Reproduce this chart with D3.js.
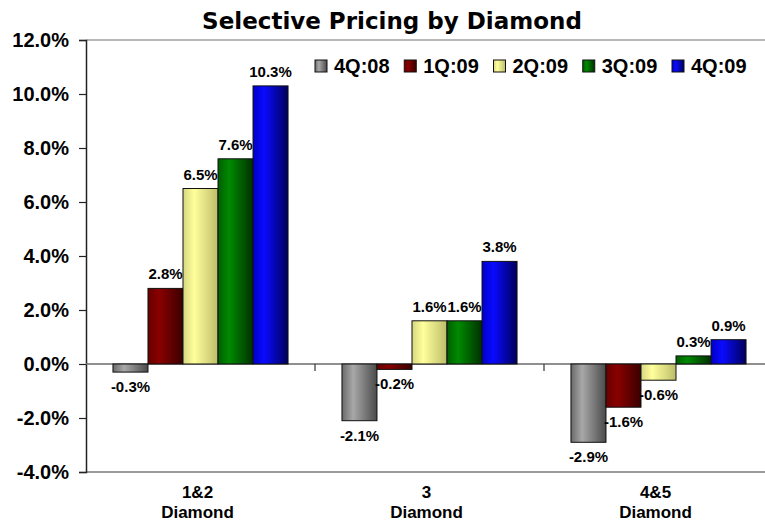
<!DOCTYPE html>
<html>
<head>
<meta charset="utf-8">
<script src="https://cdn.jsdelivr.net/npm/d3@7"></script>
<style>
  html, body { margin: 0; padding: 0; background: #fff; }
  svg { display: block; }
  text { font-family: "Liberation Sans", Arial, sans-serif; font-weight: bold; fill: #000; }
</style>
</head>
<body>
<svg id="chart" width="765" height="527"></svg>
<script>
// Chart data
const categories = ["1&2 Diamond", "3 Diamond", "4&5 Diamond"];
const seriesNames = ["4Q:08", "1Q:09", "2Q:09", "3Q:09", "4Q:09"];
const values_4Q08 = [-0.3, -2.1, -2.9];
const values_1Q09 = [2.8, -0.2, -1.6];
const values_2Q09 = [6.5, 1.6, -0.6];
const values_3Q09 = [7.6, 1.6, 0.3];
const values_4Q09 = [10.3, 3.8, 0.9];
const yTicks = [-4, -2, 0, 2, 4, 6, 8, 10, 12];

const seriesValues = [values_4Q08, values_1Q09, values_2Q09, values_3Q09, values_4Q09];

// Shading stops per series: edge, highlight, shadow
const palette = [
  ["#6a6a6a", "#a8a8a8", "#4a4a4a"],
  ["#660000", "#8a0000", "#3a0000"],
  ["#d6d680", "#ffff9c", "#bdbd6a"],
  ["#005e00", "#008a00", "#003000"],
  ["#0000c8", "#0a0aff", "#00005a"]
];

const pct = v => v.toFixed(1) + "%";

const svg = d3.select("#chart");
const margin = { left: 86, top: 40, right: -8, bottom: 55 };
const W = 765, H = 527;
const x0Range = [margin.left, W - margin.right];
const yRange = [H - margin.bottom, margin.top];

const x0 = d3.scaleBand().domain(categories).range(x0Range).padding(0);
const x1 = d3.scaleBand().domain(seriesNames).range([0, x0.bandwidth()])
  .paddingInner(0).paddingOuter(0.77);
const y = d3.scaleLinear().domain([-4, 12]).range(yRange);

// Gradients
const defs = svg.append("defs");
palette.forEach((p, i) => {
  const g = defs.append("linearGradient").attr("id", "grad" + i)
    .attr("x1", "0%").attr("x2", "100%").attr("y1", "0%").attr("y2", "0%");
  g.append("stop").attr("offset", "0%").attr("stop-color", p[0]);
  g.append("stop").attr("offset", "32%").attr("stop-color", p[1]);
  g.append("stop").attr("offset", "100%").attr("stop-color", p[2]);
});

// Plot frame: top and bottom border
svg.append("line").attr("x1", x0Range[0]).attr("x2", W).attr("y1", y(12)).attr("y2", y(12))
  .attr("stroke", "#a0a0a0").attr("stroke-width", 1.5);
svg.append("line").attr("x1", x0Range[0]).attr("x2", W).attr("y1", y(-4)).attr("y2", y(-4))
  .attr("stroke", "#7a7a7a").attr("stroke-width", 1.5);

// Y axis
const yAxis = d3.axisLeft(y).tickValues(yTicks).tickSize(7).tickPadding(10)
  .tickFormat(pct);
const gy = svg.append("g").attr("transform", `translate(${margin.left},0)`).call(yAxis);
gy.select(".domain").attr("stroke", "#222").attr("stroke-width", 1.5);
gy.selectAll(".tick line").attr("stroke", "#222").attr("stroke-width", 1.2);
gy.selectAll(".tick text").style("font-size", "20px").attr("fill", "#000")
  .style("font-family", "'Liberation Sans', Arial, sans-serif").style("font-weight", "bold");

// Zero line with category separators
svg.append("line").attr("x1", x0Range[0]).attr("x2", W).attr("y1", y(0)).attr("y2", y(0))
  .attr("stroke", "#6a6a6a").attr("stroke-width", 1.5);
categories.slice(1).forEach(c => {
  svg.append("line").attr("x1", x0(c)).attr("x2", x0(c)).attr("y1", y(0)).attr("y2", y(0) + 7)
    .attr("stroke", "#333").attr("stroke-width", 1.2);
});

// Bars
const barData = [];
categories.forEach((c, ci) => {
  seriesNames.forEach((s, si) => {
    barData.push({ cat: c, series: s, si, value: seriesValues[si][ci] });
  });
});

const bars = svg.append("g");
bars.selectAll("rect").data(barData).join("rect")
  .attr("x", d => x0(d.cat) + x1(d.series))
  .attr("width", x1.bandwidth())
  .attr("y", d => y(Math.max(0, d.value)))
  .attr("height", d => Math.abs(y(d.value) - y(0)))
  .attr("fill", d => `url(#grad${d.si})`)
  .attr("stroke", "#111").attr("stroke-width", 1);

// Value labels
bars.selectAll("text").data(barData).join("text")
  .attr("x", d => x0(d.cat) + x1(d.series) + x1.bandwidth() / 2)
  .attr("y", d => d.value >= 0 ? y(d.value) - 9 : y(d.value) + 20)
  .attr("text-anchor", "middle")
  .style("font-size", "15px")
  .text(d => pct(d.value));

// Category labels, two lines each
categories.forEach(c => {
  const parts = c.split(" ");
  const cx = x0(c) + x0.bandwidth() / 2 - 3;
  parts.forEach((p, i) => {
    svg.append("text").attr("text-anchor", "middle")
      .attr("x", cx).attr("y", 497.5 + i * 20.5)
      .style("font-size", "17px")
      .text(p);
  });
});

// Title
svg.append("text").attr("x", 392).attr("y", 29).attr("text-anchor", "middle")
  .style("font-family", "'DejaVu Sans', Verdana, sans-serif")
  .style("font-size", "23px")
  .text("Selective Pricing by Diamond");

// Legend
const legend = svg.append("g");
const legendX = d3.scalePoint().domain(seriesNames).range([315, 672]);
seriesNames.forEach((s, i) => {
  const gx = legendX(s);
  legend.append("rect").attr("x", gx).attr("y", 60).attr("width", 12).attr("height", 12)
    .attr("fill", `url(#grad${i})`).attr("stroke", "#111").attr("stroke-width", 1);
  legend.append("text").attr("x", gx + 19).attr("y", 73)
    .style("font-size", "20px").text(s);
});
</script>
</body>
</html>
